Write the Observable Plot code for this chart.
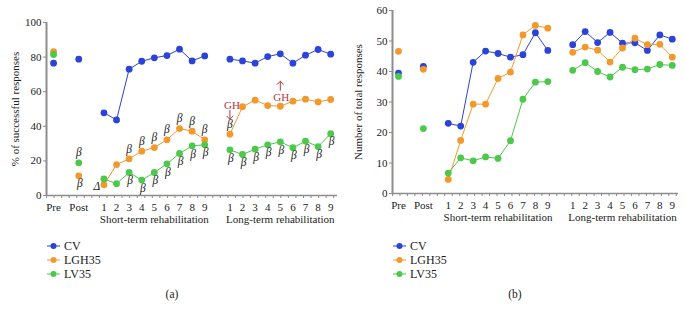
<!DOCTYPE html>
<html><head><meta charset="utf-8">
<script src="https://cdn.jsdelivr.net/npm/d3@7"></script>
<script src="https://cdn.jsdelivr.net/npm/@observablehq/plot@0.6"></script>
<style>
body{margin:0;background:#fff;font-family:"Liberation Serif","DejaVu Serif",serif;}
#wrap{position:relative;width:686px;height:318px;overflow:hidden;background:#fff}
.panel{position:absolute;top:0;width:343px;height:318px}
.panel > svg{position:absolute;left:0;top:0;overflow:visible}
.legend{position:absolute;top:239px;font-size:12px;color:#1a1a1a}
.legend .row{display:flex;align-items:center;height:14px;white-space:nowrap}
.cap{position:absolute;top:288px;width:40px;text-align:center;font-size:11.5px;color:#1a1a1a}
</style></head><body><div id="wrap"></div>
<script>
// categories
const xLabels = ["Pre","Post","1","2","3","4","5","6","7","8","9","1","2","3","4","5","6","7","8","9"];
const pointKeys = ["Pre","Post","S1","S2","S3","S4","S5","S6","S7","S8","S9","L1","L2","L3","L4","L5","L6","L7","L8","L9"];
const groupLabels = ["Short-term rehabilitation","Long-term rehabilitation"];
const seriesNames = ["CV","LGH35","LV35"];
const seriesColors = ["#2b43d8","#f2992c","#4cc84a"];

// panel (a): % of successful responses  (Pre, Post, short 1-9, long 1-9)
const successCV    = [76.5,78.8, 47.8,43.7,73.0,77.6,79.6,80.9,84.6,77.8,80.7, 78.8,77.8,76.5,80.3,81.9,76.5,81.1,84.4,81.7];
const successLGH35 = [83.2,11.4,  6.2,17.9,21.2,25.6,27.7,32.2,38.7,37.2,32.2, 35.4,51.3,55.1,52.0,51.6,54.5,55.7,54.1,55.5];
const successLV35  = [81.5,18.9,  9.6, 6.8,13.3, 8.9,13.3,18.3,24.3,28.7,29.3, 26.4,23.7,26.8,29.3,31.0,27.6,31.4,28.3,35.7];
const successTicks = [0,20,40,60,80,100];

// panel (b): number of total responses
const totalCV    = [39.5,41.7, 23.0,22.1,43.0,46.7,45.9,44.7,45.5,52.7,46.9, 48.8,53.1,49.5,52.8,49.3,49.4,46.9,52.0,50.6];
const totalLGH35 = [46.6,40.7,  4.6,17.4,29.3,29.3,37.7,39.8,52.0,55.1,54.2, 46.3,48.0,47.0,43.1,47.7,50.9,48.8,48.9,44.7];
const totalLV35  = [38.4,21.3,  6.7,11.7,10.7,12.0,11.5,17.3,30.9,36.5,36.7, 40.4,42.9,40.0,38.2,41.4,40.6,40.8,42.3,42.0];
const totalTicks = [0,10,20,30,40,50,60];

// annotations in panel (a)
const notesBetaAbove = ["LV35:Post","LGH35:S3","LGH35:S4","LGH35:S5","LGH35:S6","LGH35:S7","LGH35:S8","LGH35:S9","LGH35:L1"];
const notesBetaBelow = ["LGH35:Post","LV35:S3","LV35:S4","LV35:S5","LV35:S6","LV35:S7","LV35:S8","LV35:S9",
  "LV35:L1","LV35:L2","LV35:L3","LV35:L4","LV35:L5","LV35:L6","LV35:L7","LV35:L8","LV35:L9"];
const notesDelta = ["LGH35:S1"];
const notesGHDown = ["LGH35:L1"];
const notesGHUp = ["LGH35:L5"];

const slotOf = i => i < 2 ? 2 * i : (i < 11 ? i + 2 : i + 3);
const segOf = i => i === 0 ? "pre" : i === 1 ? "post" : i < 11 ? "short" : "long";
const slots = xLabels.map((_, i) => slotOf(i));
const groupSlots = [8, 18];

function buildRows(arrays) {
  const rows = [];
  arrays.forEach((vals, s) => vals.forEach((v, i) => rows.push({
    series: seriesNames[s], key: pointKeys[i], slot: slotOf(i), seg: segOf(i), value: v
  })));
  return rows;
}
function pick(rows, notes) {
  return notes.map(n => { const [s, k] = n.split(":"); return rows.find(r => r.series === s && r.key === k); });
}

const AX = "#8c8c8c", TXT = "#1c1c1c", RED = "#b5373d";
const FONT = "'Liberation Serif', 'DejaVu Serif', serif";

function panel({rows, yDomain, yTicks, yLabel, labelDx, xDomain, marginLeft, marginRight, marginTop, marginBottom, extra = []}) {
  const minor = d3.range(xDomain[0], xDomain[1] + 0.001, 0.6);
  return Plot.plot({
    width: 343, height: 228, marginLeft, marginRight, marginTop, marginBottom,
    style: {fontFamily: FONT, background: "transparent", color: TXT},
    x: {domain: xDomain, axis: null},
    y: {domain: yDomain, axis: null},
    color: {domain: seriesNames, range: seriesColors},
    marks: [
      Plot.axisY({ticks: yTicks, tickSize: 3, tickPadding: 2, fontSize: 11, fontFamily: FONT, stroke: AX, fill: TXT, label: null}),
      Plot.axisX({ticks: minor, tickSize: 3, tickFormat: () => "", stroke: AX, label: null}),
      Plot.axisX({ticks: slots, tickSize: 0, tickPadding: 8, fontSize: 11, fontFamily: FONT, fill: TXT, label: null,
        tickFormat: s => xLabels[slots.indexOf(s)]}),
      Plot.ruleY([yDomain[0]], {stroke: AX, strokeWidth: 1.5}),
      Plot.ruleX([xDomain[0]], {stroke: AX, strokeWidth: 2}),
      Plot.text(groupLabels, {x: groupSlots, frameAnchor: "bottom", dy: 27, fontSize: 11, fontFamily: FONT, fill: TXT}),
      Plot.text([yLabel], {frameAnchor: "left", textAnchor: "middle", rotate: -90, dx: labelDx, fontSize: 11, fontFamily: FONT, fill: TXT}),
      Plot.line(rows.filter(r => r.seg === "short" || r.seg === "long"),
        {x: "slot", y: "value", z: r => r.series + r.seg, stroke: "series", strokeWidth: 1}),
      Plot.dot(rows, {x: "slot", y: "value", fill: "series", r: 3.4}),
      ...extra
    ]
  });
}

const rowsA = buildRows([successCV, successLGH35, successLV35]);
const rowsB = buildRows([totalCV, totalLGH35, totalLV35]);

const betaStyle = {x: "slot", y: "value", text: () => "β", fontSize: 11.5, fontFamily: FONT, fontStyle: "italic", fill: TXT};
const redStyle = {x: "slot", y: "value", fontFamily: FONT, fill: RED};
const extraA = [
  Plot.text(pick(rowsA, notesBetaAbove), {...betaStyle, dy: -10}),
  Plot.text(pick(rowsA, notesBetaBelow), {...betaStyle, dx: 1, dy: 8}),
  Plot.text(pick(rowsA, notesDelta), {...betaStyle, text: () => "Δ", dx: -7, dy: 1.5}),
  Plot.vector(pick(rowsA, notesGHDown), {x: "slot", y: "value", length: 9, rotate: 180, anchor: "start", r: 6, stroke: RED, strokeWidth: 1, dy: -24}),
  Plot.text(pick(rowsA, notesGHDown), {...redStyle, text: () => "GH", fontSize: 11, dx: 2, dy: -29}),
  Plot.vector(pick(rowsA, notesGHUp), {x: "slot", y: "value", length: 9, rotate: 0, anchor: "start", r: 6, stroke: RED, strokeWidth: 1, dy: -16}),
  Plot.text(pick(rowsA, notesGHUp), {...redStyle, text: () => "GH", fontSize: 11, dx: 1, dy: -9})
];

const svgA = panel({rows: rowsA, yDomain: [0, 100], yTicks: successTicks, yLabel: "% of successful responses", labelDx: -31,
  xDomain: [-0.56, 22.54], marginLeft: 46, marginRight: 6, marginTop: 22, marginBottom: 33, extra: extraA});
const svgB = panel({rows: rowsB, yDomain: [0, 60], yTicks: totalTicks, yLabel: "Number of total responses", labelDx: -34,
  xDomain: [-0.48, 22.5], marginLeft: 49, marginRight: 8, marginTop: 10, marginBottom: 35});

function legend(left) {
  const div = document.createElement("div");
  div.className = "legend";
  div.style.left = left + "px";
  seriesNames.forEach((name, i) => {
    const row = document.createElement("div");
    row.className = "row";
    row.innerHTML = `<svg width="17" height="8"><line x1="0" x2="13" y1="4" y2="4" stroke="${seriesColors[i]}" stroke-width="1"/><circle cx="6.5" cy="4" r="3" fill="${seriesColors[i]}"/></svg>${name}`;
    div.appendChild(row);
  });
  return div;
}

const wrap = document.getElementById("wrap");
[[svgA, 0, 47, "(a)", 152], [svgB, 343, 50, "(b)", 152]].forEach(([svg, left, legLeft, cap, capLeft]) => {
  const p = document.createElement("div");
  p.className = "panel";
  p.style.left = left + "px";
  p.appendChild(svg);
  p.appendChild(legend(legLeft));
  const c = document.createElement("div");
  c.className = "cap";
  c.style.left = capLeft + "px";
  c.textContent = cap;
  p.appendChild(c);
  wrap.appendChild(p);
});
</script></body></html>
